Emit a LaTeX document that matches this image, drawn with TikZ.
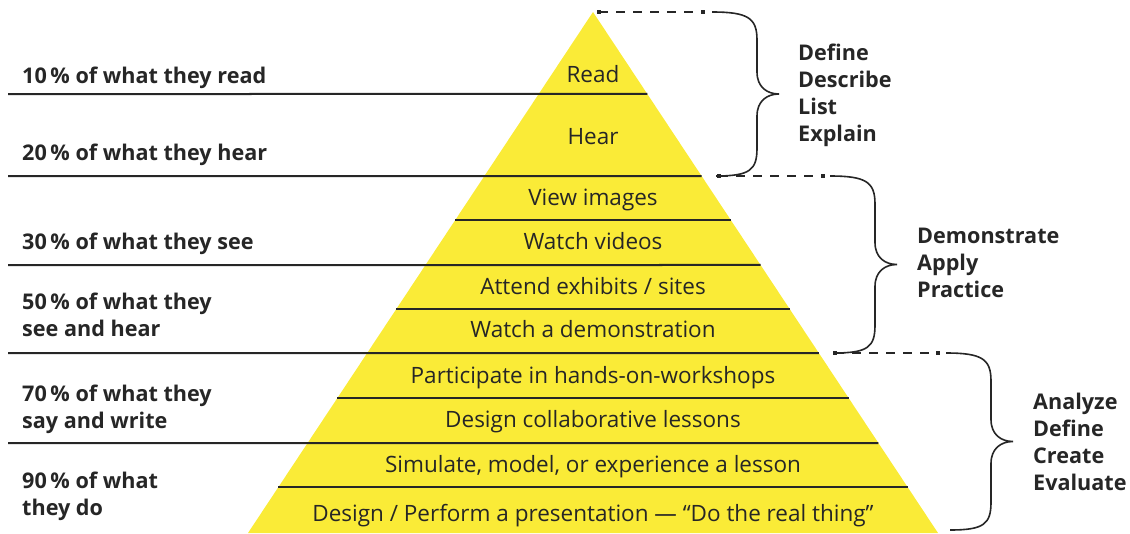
\documentclass[tikz,border=0pt]{standalone}
\usepackage{fontspec}
\setmainfont{Open Sans}
\newfontfamily\boldfam{Open Sans}
\usetikzlibrary{calc}
\definecolor{pyr}{RGB}{250,235,55}
\definecolor{ink}{RGB}{38,38,38}
\newcommand\cbrace[4]{% #1 name, #2 x, #3 ytop, #4 ybot
  \pgfmathsetmacro\ym{(#3+#4)/2}
  \coordinate (#1t) at (#2,#3);
  \coordinate (#1b) at (#2+4,#4);
  \coordinate (#1m) at (#2+67,\ym);
  \draw[bracestyle] (#1t) .. controls +(36,0) and +(0,-22) .. (#2+45,#3+28) -- (#2+45,\ym-22)
     .. controls +(0,15) and +(-12,0) .. (#1m)
     .. controls +(-12,0) and +(0,-15) .. (#2+45,\ym+22) -- (#2+45,#4-28)
     .. controls +(0,22) and +(34,0) .. (#1b);
}
\begin{document}
\begin{tikzpicture}[x=1pt,y=-1pt,
  rule/.style={draw=ink, line width=2pt},
  band/.style={font=\fontsize{22.5}{25}\selectfont, text=ink, anchor=base, inner sep=0pt},
  pct/.style={font=\boldfam\bfseries\fontsize{21.6}{27}\selectfont, text=ink, anchor=base west, align=left, inner sep=0pt},
  verbs/.style={font=\boldfam\bfseries\fontsize{21.6}{27}\selectfont, text=ink, anchor=base west, align=left, inner sep=0pt},
  dashline/.style={draw=ink, line width=2pt, dash pattern=on 9pt off 8pt},
  dotend/.style={fill=ink, minimum size=4.5pt, inner sep=0pt, shape=rectangle},
  bracestyle/.style={draw=ink, line width=1.6pt}]
\useasboundingbox (0,0) rectangle (1130,533);
\coordinate (apex) at (593,12);
\coordinate (bl) at (248,533);
\coordinate (br) at (938,533);
\fill[pyr] (apex) -- (br) -- (bl) -- cycle;
% full-width rules
\foreach \y/\n in {94/a,176/b,265/c,353/d,443/e} {
  \coordinate (L\n) at (8,\y);
  \coordinate (R\n) at ($(apex)!{(\y-12)/521}!(br)$);
  \draw[rule] (L\n) -- (R\n);
}
% inner rules
\foreach \y/\n in {220/f,309/g,398/h,487/i} {
  \coordinate (L\n) at ($(apex)!{(\y-12)/521}!(bl)$);
  \coordinate (R\n) at ($(apex)!{(\y-12)/521}!(br)$);
  \draw[rule] (L\n) -- (R\n);
}
% band texts
\node[band] (t1) at (593,82) {Read};
\node[band] (t2) at (593,144) {Hear};
\node[band] (t3) at (593,205) {View images};
\node[band] (t4) at (593,249) {Watch videos};
\node[band] (t5) at (593,294) {Attend exhibits / sites};
\node[band] (t6) at (593,337) {Watch a demonstration};
\node[band] (t7) at (593,383) {Participate in hands-on-workshops};
\node[band] (t8) at (593,427) {Design collaborative lessons};
\node[band] (t9) at (593,472) {Simulate, model, or experience a lesson};
\node[band] (t10) at (593,521) {Design / Perform a presentation — “Do the real thing”};
% left labels (anchor = baseline of last line)
\node[pct] (p10) at (22,83) {10\,\% of what they read};
\node[pct] (p20) at (22,160) {20\,\% of what they hear};
\node[pct] (p30) at (22,249) {30\,\% of what they see};
\node[pct] (p50) at (22,336) {50\,\% of what they\\see and hear};
\node[pct] (p70) at (22,428) {70\,\% of what they\\say and write};
\node[pct] (p90) at (22,515) {90\,\% of what\\they do};
% dashed connectors
\node[dotend] (d1a) at (599,12) {};
\node[dotend] (d1b) at (703,12) {};
\node[dotend] (d2a) at (719,176) {};
\node[dotend] (d2b) at (823,176) {};
\node[dotend] (d3a) at (835,353) {};
\node[dotend] (d3b) at (938,353) {};
\draw[dashline] (d1a.center) -- (d1b.center);
\draw[dashline] (d2a.center) -- (d2b.center);
\draw[dashline] (d3a.center) -- (d3b.center);
% braces
\cbrace{b1}{712}{12}{176}
\cbrace{b2}{830}{176}{353}
\cbrace{b3}{946}{353}{530}
% right labels (anchor = baseline of last line)
\node[verbs] (v1) at (798,141) {Define\\Describe\\List\\Explain};
\node[verbs] (v2) at (917,297) {Demonstrate\\Apply\\Practice};
\node[verbs] (v3) at (1033,490) {Analyze\\Define\\Create\\Evaluate};
\end{tikzpicture}
\end{document}
